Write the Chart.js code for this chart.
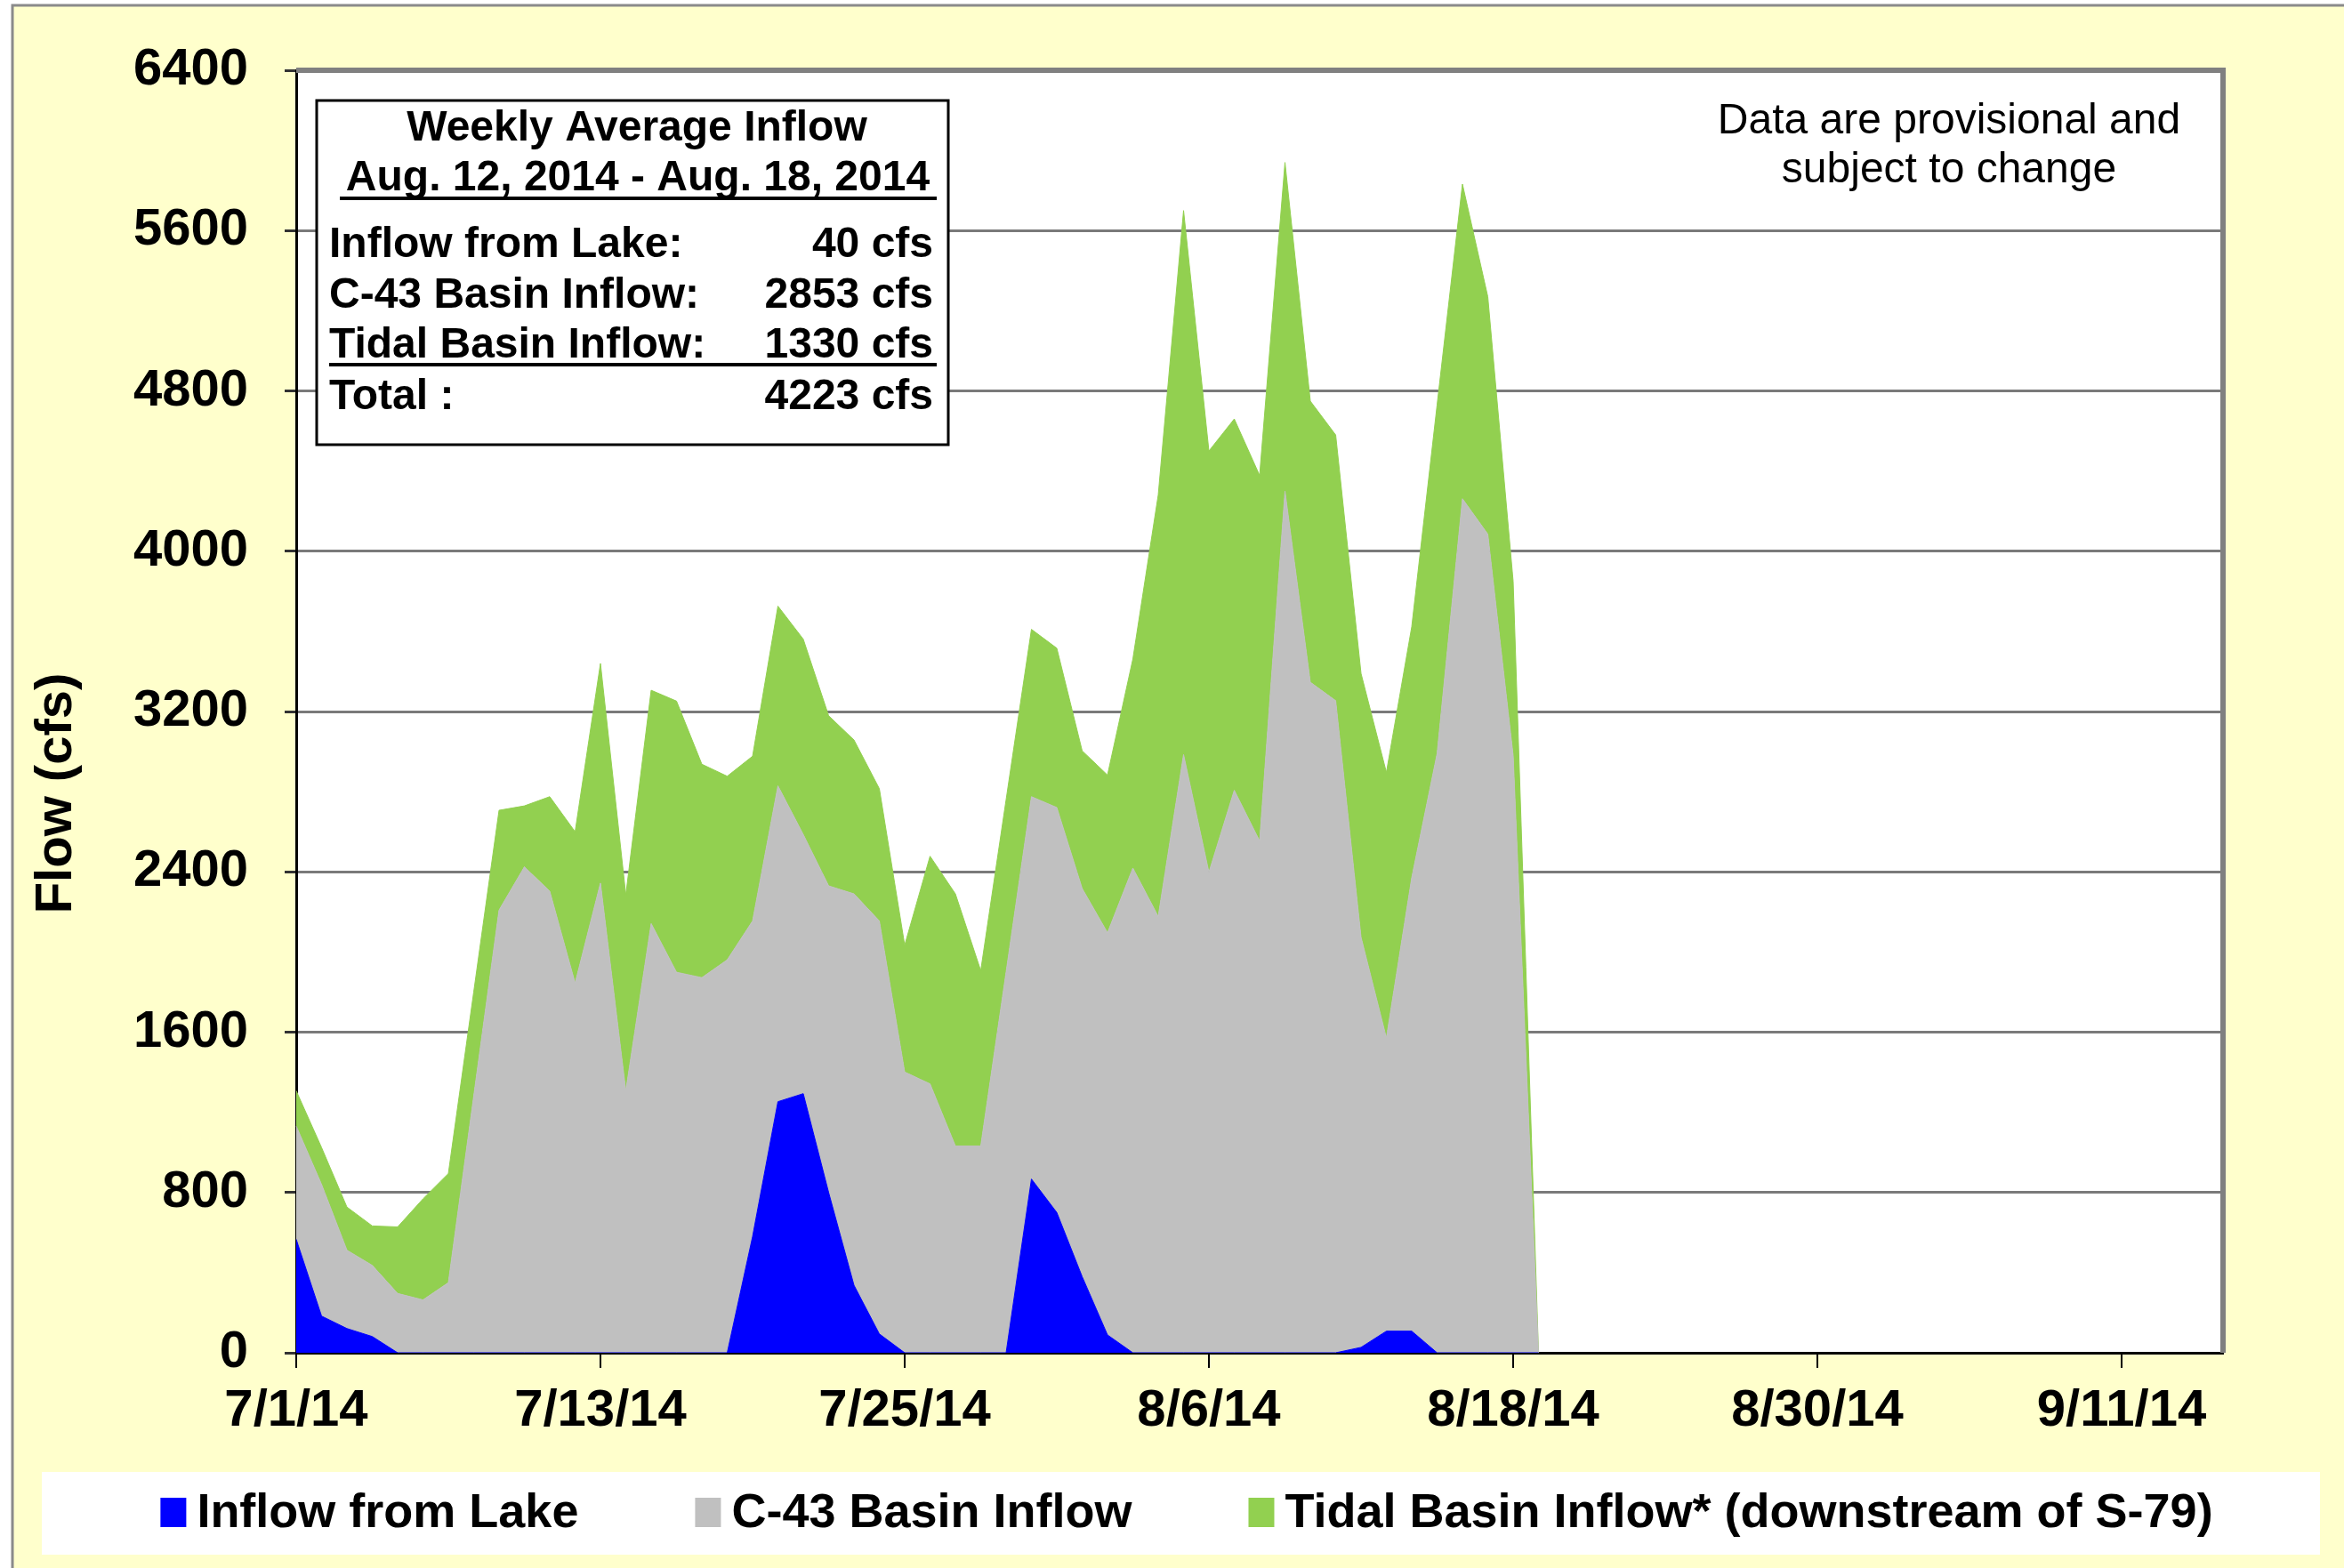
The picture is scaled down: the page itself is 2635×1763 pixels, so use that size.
<!DOCTYPE html>
<html>
<head>
<meta charset="utf-8">
<title>Caloosahatchee inflow</title>
<script src="https://cdn.jsdelivr.net/npm/chart.js@4.4.1/dist/chart.umd.min.js"></script>
<style>
  html, body { margin: 0; padding: 0; background: #fff; }
  #wrap { width: 2635px; height: 1763px; }
</style>
</head>
<body>
<div id="wrap"><canvas id="grafico" width="2635" height="1763"></canvas></div>
<script>
// daily flows in cfs, starting 7/1/14 (data stops after 8/19/14)
const lakeInflow = [566, 183, 121, 81, 0, 0, 0, 0, 0, 0,
  0, 0, 0, 0, 0, 0, 0, 0, 580, 1253,
  1293, 800, 337, 94, 0, 0, 0, 0, 0, 867,
  700, 380, 89, 0, 0, 0, 0, 0, 0, 0,
  0, 0, 27, 108, 108, 0, 0, 0, 0, 0];
const c43Inflow = [565, 657, 391, 355, 296, 264, 350, 1280, 2209, 2425,
  2303, 1845, 2344, 1307, 2142, 1899, 1872, 1961, 1575, 1576,
  1293, 1530, 1953, 2061, 1401, 1342, 1032, 1032, 1900, 1908,
  2021, 1937, 2007, 2419, 2177, 2985, 2398, 2807, 2554, 4300,
  3346, 3254, 2047, 1463, 2263, 2990, 4262, 4085, 2980, 0];
const tidalInflow = [176, 184, 215, 197, 332, 504, 544, 520, 498, 304,
  472, 755, 1096, 978, 1164, 1353, 1065, 916, 822, 897,
  975, 849, 768, 660, 633, 1136, 1258, 875, 860, 835,
  795, 687, 787, 1043, 2103, 2715, 2102, 1853, 1824, 1640,
  1403, 1326, 1316, 1325, 1252, 1740, 1570, 1185, 870, 0];

const seriesNames = ['Inflow from Lake', 'C-43 Basin Inflow', 'Tidal Basin Inflow* (downstream of S-79)'];
const seriesColors = ['#0000ff', '#c0c0c0', '#92d050'];
const yTicks = [0, 800, 1600, 2400, 3200, 4000, 4800, 5600, 6400];
const yTitle = 'Flow (cfs)';
const labelEvery = 12; // a date label every 12 days

const boxTitle = ['Weekly Average Inflow', 'Aug. 12, 2014 - Aug. 18, 2014'];
const boxLabels = ['Inflow from Lake:', 'C-43 Basin Inflow:', 'Tidal Basin Inflow:', 'Total :'];
const boxValues = ['40 cfs', '2853 cfs', '1330 cfs', '4223 cfs'];
const note = ['Data are provisional and', 'subject to change'];

// x axis: one category per day, 7/1/14 .. 9/15/14
const dayLabels = [];
for (let d = new Date(2014, 6, 1); d <= new Date(2014, 8, 15); d.setDate(d.getDate() + 1)) {
  dayLabels.push((d.getMonth() + 1) + '/' + d.getDate() + '/' + String(d.getFullYear()).slice(2));
}

const FONT = '"Liberation Sans", Arial, sans-serif';

// background, plot frame, info box, note, axis title and legend
const decor = {
  id: 'decor',
  beforeDraw(chart) {
    const ctx = chart.ctx, a = chart.chartArea;
    ctx.save();
    ctx.fillStyle = '#fff';
    ctx.fillRect(0, 0, chart.width, chart.height);
    ctx.fillStyle = '#ffffcc';
    ctx.fillRect(14, 6, chart.width - 14, chart.height - 6);
    ctx.strokeStyle = '#8a8a8a';
    ctx.lineWidth = 3;
    ctx.beginPath();
    ctx.moveTo(14, chart.height);
    ctx.lineTo(14, 6);
    ctx.lineTo(chart.width, 6);
    ctx.stroke();
    ctx.fillStyle = '#fff';
    ctx.fillRect(a.left, a.top, a.right - a.left, a.bottom - a.top);
    ctx.fillRect(47, 1655, 2561, 93);
    ctx.restore();
  },
  afterDraw(chart) {
    const ctx = chart.ctx, a = chart.chartArea;
    ctx.save();

    // gray frame on top and right of the plot
    ctx.strokeStyle = '#808080';
    ctx.lineWidth = 6;
    ctx.beginPath();
    ctx.moveTo(a.left, a.top);
    ctx.lineTo(a.right, a.top);
    ctx.lineTo(a.right, a.bottom);
    ctx.stroke();

    // weekly average box
    ctx.fillStyle = '#fff';
    ctx.fillRect(356, 113, 710, 387);
    ctx.strokeStyle = '#000';
    ctx.lineWidth = 3;
    ctx.strokeRect(356, 113, 710, 387);
    ctx.fillStyle = '#000';
    ctx.font = 'bold 48px ' + FONT;
    ctx.textBaseline = 'alphabetic';
    ctx.textAlign = 'center';
    ctx.fillText(boxTitle[0], 716, 158);
    ctx.fillText(boxTitle[1], 717, 214);
    ctx.fillRect(382, 221, 671, 4);
    const rows = [289, 346, 402, 460];
    boxLabels.forEach((t, i) => {
      ctx.textAlign = 'left';
      ctx.fillText(t, 370, rows[i]);
      ctx.textAlign = 'right';
      ctx.fillText(boxValues[i], 1049, rows[i]);
    });
    ctx.fillRect(370, 408, 683, 4);

    // provisional note
    ctx.font = '48px ' + FONT;
    ctx.textAlign = 'center';
    ctx.fillText(note[0], 2191, 150);
    ctx.fillText(note[1], 2191, 205);

    // y axis title, sits a bit below the plot's middle
    ctx.save();
    ctx.translate(64, 892);
    ctx.rotate(-Math.PI / 2);
    ctx.font = 'bold 58px ' + FONT;
    ctx.textBaseline = 'middle';
    ctx.fillText(yTitle, 0, 0);
    ctx.restore();

    // legend
    ctx.font = 'bold 54px ' + FONT;
    ctx.textAlign = 'left';
    const sq = 29, gap = 12, between = 131;
    const ds = chart.data.datasets;
    let total = 0;
    ds.forEach((d, i) => { total += sq + gap + ctx.measureText(d.label).width + (i ? between : 0); });
    let x = 1334 - total / 2;
    ds.forEach(d => {
      ctx.fillStyle = d.backgroundColor;
      ctx.fillRect(x, 1684, sq, 33);
      ctx.fillStyle = '#000';
      ctx.fillText(d.label, x + sq + gap, 1717);
      x += sq + gap + ctx.measureText(d.label).width + between;
    });
    ctx.restore();
  }
};

const series = [lakeInflow, c43Inflow, tidalInflow];

new Chart(document.getElementById('grafico'), {
  type: 'line',
  data: {
    labels: dayLabels,
    datasets: series.map((vals, i) => ({
      label: seriesNames[i],
      data: vals,
      backgroundColor: seriesColors[i],
      borderColor: seriesColors[i],
      borderWidth: 1,
      pointRadius: 0,
      tension: 0,
      fill: i === 0 ? 'origin' : '-1'
    }))
  },
  options: {
    responsive: false,
    animation: false,
    events: [],
    devicePixelRatio: 1,
    layout: { padding: { left: 29, top: 79, right: 136, bottom: 120 } },
    plugins: {
      legend: { display: false },
      tooltip: { enabled: false }
    },
    scales: {
      x: {
        offset: false,
        afterFit(scale) { scale.height = 1763 - 1521 - 120; },
        grid: { drawOnChartArea: false, color: '#000', lineWidth: 2, tickLength: 17 },
        border: { color: '#000', width: 3 },
        ticks: {
          autoSkip: false,
          maxRotation: 0,
          minRotation: 0,
          padding: 14,
          color: '#000',
          font: { family: FONT, size: 58, weight: 'bold' },
          callback(val, idx) { return idx % labelEvery === 0 ? dayLabels[idx] : null; }
        }
      },
      y: {
        stacked: true,
        min: yTicks[0],
        max: yTicks[yTicks.length - 1],
        afterFit(scale) { scale.width = 333 - 29; },
        afterBuildTicks(scale) { scale.ticks = yTicks.map(v => ({ value: v })); },
        grid: { color: '#7a7a7a', lineWidth: 3, tickColor: '#333', tickLength: 13 },
        border: { color: '#000', width: 3 },
        ticks: {
          padding: 41,
          color: '#000',
          font: { family: FONT, size: 58, weight: 'bold' },
          callback(val) { return String(val); }
        }
      }
    }
  },
  plugins: [decor]
});
</script>
</body>
</html>
